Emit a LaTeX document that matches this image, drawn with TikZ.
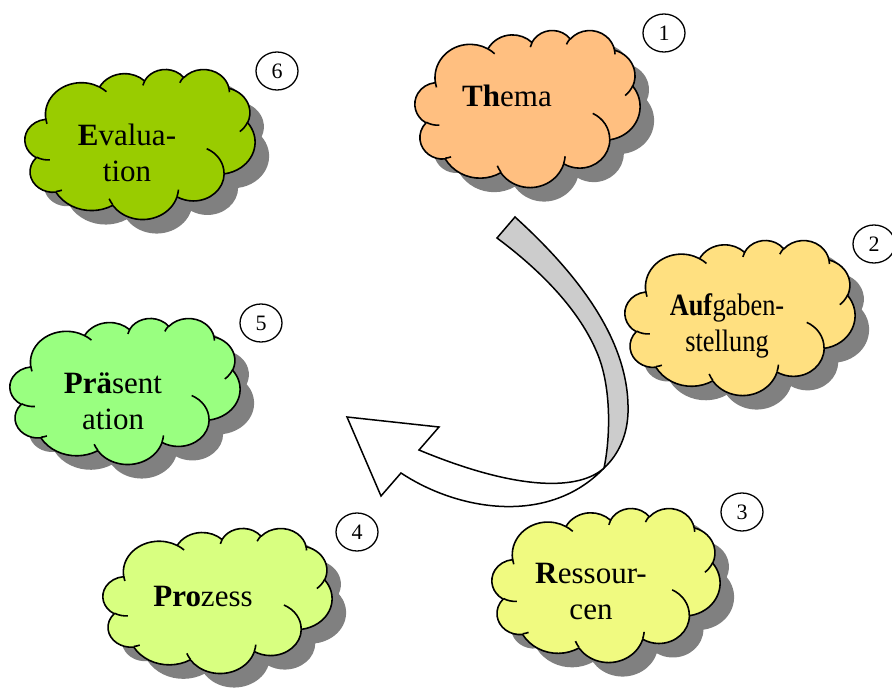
\documentclass[tikz,border=0pt]{standalone}
\usepackage{fontspec}
\setmainfont{Liberation Serif}
\usepackage{graphicx}
\usetikzlibrary{shapes.geometric}
\definecolor{themafill}{HTML}{FFBF80}
\definecolor{aufgfill}{HTML}{FFE080}
\definecolor{ressfill}{HTML}{F0FA80}
\definecolor{prozfill}{HTML}{D8FF80}
\definecolor{praefill}{HTML}{99FF80}
\definecolor{evalfill}{HTML}{99CC00}
\definecolor{shadowgray}{HTML}{808080}
\definecolor{arrowgray}{HTML}{CCCCCC}
\tikzset{
  declare function={pa(\x,\y,\z)=\x+mod(atan2(\y*sin(\x),\z*cos(\x))-\x+540,360)-180;},
  cloudline/.style={draw=black,line width=1.6pt,line join=round},
  cloudshadow/.style={fill=shadowgray},
  cloudtext/.style={font=\fontsize{31}{36.5}\selectfont,inner sep=0pt,anchor=base},
  numcirc/.style={ellipse,draw=black,line width=1.3pt,fill=white,minimum width=42pt,minimum height=38pt,inner sep=0pt,font=\fontsize{22}{26}\selectfont},
  arrowline/.style={draw=black,line width=1.5pt,line join=miter},
}
\newcommand\oarc[4]{arc[start angle={pa(#3,#1,#2)},end angle={pa(#3+#4,#1,#2)},x radius=#1,y radius=#2]}
\newcommand\cloudouter{(3.9,14.37)
 \oarc{6.753}{9.19}{-190.4875}{123.7805}
 \oarc{5.333}{7.267}{-144.1024}{89.9452}
 \oarc{4.365}{5.945}{-145.8079}{99.7230}
 \oarc{4.857}{6.595}{-130.9861}{117.2417}
 \oarc{5.333}{7.273}{-78.7089}{109.0269}
 \oarc{6.775}{9.22}{-46.2673}{130.2690}
 \oarc{5.785}{7.867}{0.625}{114.0333}
 \oarc{6.752}{9.215}{22.4516}{115.1726}
 \oarc{7.72}{10.543}{66.2426}{75.711}
 \oarc{4.36}{5.918}{-274.9421}{146.7356}
 \oarc{4.345}{5.945}{-246.8285}{152.5189}
 -- cycle}
\newcommand\cloudinner{
 (4.693,26.177) \oarc{4.345}{5.945}{86.742}{26.4295}
 (6.928,34.899) \oarc{4.36}{5.918}{73.6105}{11.4475}
 (16.478,39.09) \oarc{6.752}{9.215}{137.6242}{14.0811}
 (28.827,34.751) \oarc{6.752}{9.215}{6.4533}{15.9984}
 (34.129,22.954) \oarc{5.785}{7.867}{-70.2924}{70.9174}
 (41.798,15.354) \oarc{5.333}{7.273}{30.318}{27.7515}
 (38.324,5.426) \oarc{4.857}{6.595}{-13.7443}{14.8589}
 (29.078,3.952) \oarc{4.857}{6.595}{-149.1815}{18.1954}
 (22.141,4.72) \oarc{4.365}{5.945}{-163.4943}{17.6864}
 (14,5.192) \oarc{6.753}{9.19}{-66.707}{12.3194}
 (4.127,15.789) \oarc{6.753}{9.19}{157.6544}{11.8582}}
\newcommand\ooCloud[5]{%
  \pgfmathsetmacro\cw{#3/43.2}\pgfmathsetmacro\ch{#4/43.2}%
  \begin{scope}[shift={(#1+14,#2+14)},x=\cw pt,y=-\ch pt]
    \fill[cloudshadow] \cloudouter;
  \end{scope}
  \begin{scope}[shift={(#1,#2)},x=\cw pt,y=-\ch pt]
    \draw[cloudline,fill=#5] \cloudouter;
    \draw[cloudline] \cloudinner;
  \end{scope}}
\begin{document}
\begin{tikzpicture}[x=1pt,y=-1pt]
\fill[white] (0,0) rectangle (892,696);
\useasboundingbox (0,0) rectangle (892,696);
% clouds
\ooCloud{415}{30}{225}{157}{themafill}
\ooCloud{625}{240}{230}{155}{aufgfill}
\ooCloud{492}{508}{228}{154}{ressfill}
\ooCloud{103}{528}{229}{145}{prozfill}
\ooCloud{10}{318}{230}{146}{praefill}
\ooCloud{25}{69}{230}{150}{evalfill}
% texts
\node[cloudtext] (thema) at (507,106) {\textbf{Th}ema};
\node[cloudtext] (aufgabe) at (727,315) {\begin{tabular}[t]{@{}c@{}}\scalebox{0.85}[1]{\textbf{Auf}gaben-}\\\scalebox{0.85}[1]{stellung}\end{tabular}};
\node[cloudtext] (ressourcen) at (591,583) {\begin{tabular}[t]{@{}c@{}}\textbf{R}essour-\\cen\end{tabular}};
\node[cloudtext] (prozess) at (203,606) {\textbf{Pro}zess};
\node[cloudtext] (praesentation) at (113,393) {\begin{tabular}[t]{@{}c@{}}\textbf{Prä}sent\\ation\end{tabular}};
\node[cloudtext] (evaluation) at (127,145) {\begin{tabular}[t]{@{}c@{}}\textbf{E}valua-\\tion\end{tabular}};
% number circles
\node[numcirc] (n1) at (664,33) {1};
\node[numcirc] (n2) at (874,244) {2};
\node[numcirc] (n3) at (742,512) {3};
\node[numcirc] (n4) at (357,532) {4};
\node[numcirc] (n5) at (261,323) {5};
\node[numcirc] (n6) at (277,71) {6};
% curved arrow
\draw[arrowline,fill=arrowgray] (515,217) .. controls (590,285) and (630,350) .. (628,413)
  .. controls (627,440) and (615,458) .. (604,468)
  .. controls (610,440) and (612,390) .. (598,355)
  .. controls (580,310) and (540,270) .. (497,238) -- cycle;
\draw[arrowline,fill=white] (604,468) .. controls (580,490) and (520,492) .. (419,450)
  -- (439,427) -- (347,417) -- (381,496) -- (401,473)
  .. controls (460,512) and (550,525) .. (604,468) -- cycle;
\end{tikzpicture}
\end{document}
